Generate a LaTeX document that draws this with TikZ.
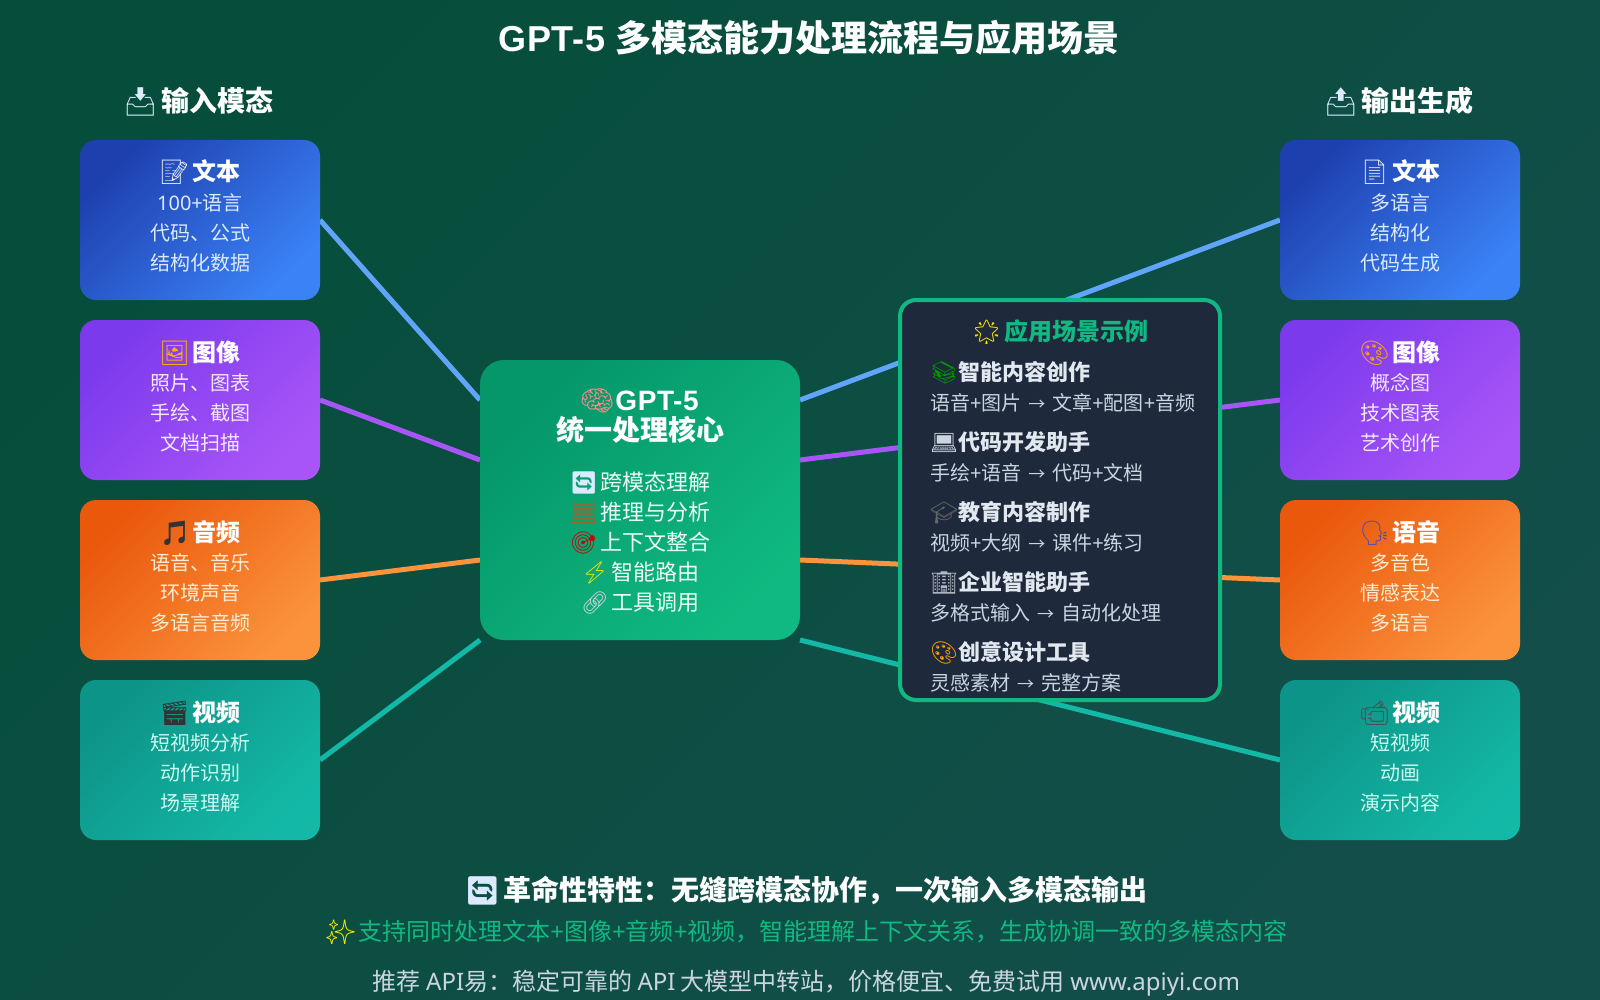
\documentclass[tikz,border=0pt]{standalone}
\usepackage{fontspec}
\setmainfont{Noto Sans CJK SC}
\newfontfamily\emj{Noto Emoji}
\newfontfamily\la{Noto Sans}
\newfontfamily\gpf[LetterSpace=2]{Liberation Sans}
\usetikzlibrary{backgrounds}
\newcommand{\ej}[2]{{\color{#1}\emj #2}\kern-.12em\relax}
\newcommand{\ek}[2]{{\color{#1}\emj #2}\kern-.21em\relax}
\newcommand{\pl}{{\la +}}
\newcommand{\arw}{\hspace{7pt}\scalebox{.85}{→}\hspace{7pt}}
\definecolor{bgA}{HTML}{064E3B}\definecolor{bgB}{HTML}{134E4A}
\definecolor{blA}{HTML}{1E40AF}\definecolor{blB}{HTML}{3B82F6}\definecolor{blL}{HTML}{60A5FA}\definecolor{blT}{HTML}{DBEAFE}
\definecolor{puA}{HTML}{7C3AED}\definecolor{puB}{HTML}{A855F7}\definecolor{puT}{HTML}{F3E8FF}
\definecolor{orA}{HTML}{EA580C}\definecolor{orB}{HTML}{FB923C}\definecolor{orT}{HTML}{FFEDD5}
\definecolor{teA}{HTML}{0D9488}\definecolor{teB}{HTML}{14B8A6}\definecolor{teT}{HTML}{CCFBF1}
\definecolor{grA}{HTML}{059669}\definecolor{grB}{HTML}{10B981}\definecolor{grT}{HTML}{ECFDF5}
\definecolor{slate}{HTML}{1E293B}\definecolor{slT}{HTML}{CBD5E1}\definecolor{slH}{HTML}{E2E8F0}
\pgfdeclarelayer{links}\pgfdeclarelayer{page}\pgfsetlayers{page,links,main}
\tikzset{
  base/.style={rounded corners=16pt,inner sep=0pt,outer sep=0pt,minimum width=240pt,minimum height=160pt},
  bluebox/.style={base,top color=blA,bottom color=blB,shading angle=45},
  purplebox/.style={base,top color=puA,bottom color=puB,shading angle=45},
  orangebox/.style={base,top color=orA,bottom color=orB,shading angle=45},
  tealbox/.style={base,top color=teA,bottom color=teB,shading angle=45},
  corebox/.style={rounded corners=24pt,inner sep=0pt,outer sep=0pt,minimum width=320pt,minimum height=280pt,top color=grA,bottom color=grB,shading angle=45},
  appbox/.style={rounded corners=16pt,inner sep=0pt,outer sep=0pt,minimum width=320pt,minimum height=400pt,fill=slate,draw=grB,line width=4pt},
  tx/.style={anchor=base,inner sep=0pt,outer sep=0pt,text=#1},
  txl/.style={anchor=base west,inner sep=0pt,outer sep=0pt,text=#1},
  fT/.style={font=\fontsize{36}{40}\selectfont\bfseries},
  fH/.style={font=\fontsize{28}{32}\selectfont\bfseries},
  fB/.style={font=\fontsize{24}{28}\selectfont\bfseries},
  fS/.style={font=\fontsize{20}{24}\selectfont},
  fI/.style={font=\fontsize{22}{26}\selectfont},
  fK/.style={font=\fontsize{22}{26}\selectfont\bfseries},
  fF/.style={font=\fontsize{24}{28}\selectfont},
  link/.style={line width=5pt,#1},
}
\begin{document}
\begin{tikzpicture}[x=1pt,y=-1pt]
\useasboundingbox (0,0) rectangle (1600,1000);
\begin{pgfonlayer}{page}
\fill[top color=bgA,bottom color=bgB,shading angle=45] (0,0) rectangle (1600,1000);
\end{pgfonlayer}

\node[tx=white,fT] (title) at (809,52) {{\gpf GPT-5}\hspace{2pt} 多模态能力处理流程与应用场景};
\node[tx=white,fH] (inhead) at (198,112) {\ej{blT}{📥} 输入模态};
\node[tx=white,fH] (outhead) at (1398.5,112) {\ej{blT}{📤} 输出生成};

% input boxes
\node[bluebox] (in1) at (200,220) {};
\node[tx=white,fB] (in1t) at (200,181) {\ej{slH}{📝} 文本};
\node[tx=blT,fS] (in1a) at (200,211) {{\la 100+}语言};
\node[tx=blT,fS] (in1b) at (200,241) {代码、公式};
\node[tx=blT,fS] (in1c) at (200,270.5) {结构化数据};

\node[purplebox] (in2) at (200,400) {};
\node[tx=white,fB] (in2t) at (200,361) {\ej{orange!60!yellow}{🖼} 图像};
\node[tx=puT,fS] (in2a) at (200,390.5) {照片、图表};
\node[tx=puT,fS] (in2b) at (200,420.5) {手绘、截图};
\node[tx=puT,fS] (in2c) at (200,450.5) {文档扫描};

\node[orangebox] (in3) at (200,580) {};
\node[tx=white,fB] (in3t) at (200,541) {\ej{black!80}{🎵} 音频};
\node[tx=orT,fS] (in3a) at (200,570.5) {语音、音乐};
\node[tx=orT,fS] (in3b) at (200,600.5) {环境声音};
\node[tx=orT,fS] (in3c) at (200,630.5) {多语言音频};

\node[tealbox] (in4) at (200,760) {};
\node[tx=white,fB] (in4t) at (200,721) {\ej{black!80}{🎬} 视频};
\node[tx=teT,fS] (in4a) at (200,750.5) {短视频分析};
\node[tx=teT,fS] (in4b) at (200,780.5) {动作识别};
\node[tx=teT,fS] (in4c) at (200,810.5) {场景理解};

% output boxes
\node[bluebox] (out1) at (1400,220) {};
\node[tx=white,fB] (out1t) at (1400,181) {\ej{slH}{📄} 文本};
\node[tx=blT,fS] (out1a) at (1400,211) {多语言};
\node[tx=blT,fS] (out1b) at (1400,241) {结构化};
\node[tx=blT,fS] (out1c) at (1400,270.5) {代码生成};

\node[purplebox] (out2) at (1400,400) {};
\node[tx=white,fB] (out2t) at (1400,361) {\ej{orange!70!yellow}{🎨} 图像};
\node[tx=puT,fS] (out2a) at (1400,390.5) {概念图};
\node[tx=puT,fS] (out2b) at (1400,420.5) {技术图表};
\node[tx=puT,fS] (out2c) at (1400,450.5) {艺术创作};

\node[orangebox] (out3) at (1400,580) {};
\node[tx=white,fB] (out3t) at (1400,541) {\ej{blue!40!gray}{🗣} 语音};
\node[tx=orT,fS] (out3a) at (1400,570.5) {多音色};
\node[tx=orT,fS] (out3b) at (1400,600.5) {情感表达};
\node[tx=orT,fS] (out3c) at (1400,630.5) {多语言};

\node[tealbox] (out4) at (1400,760) {};
\node[tx=white,fB] (out4t) at (1400,721) {\ej{black!70}{📹} 视频};
\node[tx=teT,fS] (out4a) at (1400,750.5) {短视频};
\node[tx=teT,fS] (out4b) at (1400,780.5) {动画};
\node[tx=teT,fS] (out4c) at (1400,810.5) {演示内容};

% core
\node[corebox] (core) at (640,500) {};
\node[tx=white,fH] (coret1) at (639,410.5) {\ek{pink!70!red}{🧠} {\gpf GPT-5}};
\node[tx=white,fH] (coret2) at (640,440) {统一处理核心};
\node[tx=grT,fI] (corea) at (640,490.5) {\ej{blT}{🔄} 跨模态理解};
\node[tx=grT,fI] (coreb) at (640,520.5) {\ej{brown!80!black}{🧮} 推理与分析};
\node[tx=grT,fI] (corec) at (640,550.5) {\ej{red!80!black}{🎯} 上下文整合};
\node[tx=grT,fI] (cored) at (640,580.5) {\ej{yellow!90!orange}{⚡} 智能路由};
\node[tx=grT,fI] (coree) at (640,610.5) {\ej{slT}{🔗} 工具调用};

% applications
\node[appbox] (app) at (1060,500) {};
\node[tx=grB,fB] (appt) at (1060,340) {\ej{yellow!90!orange}{🌟} 应用场景示例};
\node[txl=slH,fK] (app1h) at (930,380) {\ek{green!60!black}{📚} 智能内容创作};
\node[txl=slT,fS] (app1d) at (930,410) {语音\pl 图片\arw 文章\pl 配图\pl 音频};
\node[txl=slH,fK] (app2h) at (930,450) {\ek{slT}{💻} 代码开发助手};
\node[txl=slT,fS] (app2d) at (930,480) {手绘\pl 语音\arw 代码\pl 文档};
\node[txl=slH,fK] (app3h) at (930,520) {\ek{black!60}{🎓} 教育内容制作};
\node[txl=slT,fS] (app3d) at (930,550) {视频\pl 大纲\arw 课件\pl 练习};
\node[txl=slH,fK] (app4h) at (930,590) {\ek{slT!70!gray}{🏢} 企业智能助手};
\node[txl=slT,fS] (app4d) at (930,620) {多格式输入\arw 自动化处理};
\node[txl=slH,fK] (app5h) at (930,660) {\ek{orange!70!yellow}{🎨} 创意设计工具};
\node[txl=slT,fS] (app5d) at (930,690) {灵感素材\arw 完整方案};

% footer
\node[tx=white,fH] (foot1) at (806,900) {\ej{blT}{🔄} 革命性特性：无缝跨模态协作，一次输入多模态输出};
\node[tx=grB,fF] (foot2) at (806.5,940.5) {\ej{yellow!90!orange}{✨} 支持同时处理文本\pl 图像\pl 音频\pl 视频，智能理解上下文关系，生成协调一致的多模态内容};
\node[tx=slT,fF] (foot3) at (806.5,990.5) {推荐 {\la API}易：稳定可靠的 {\la API} 大模型中转站，价格便宜、免费试用 {\la www.apiyi.com}};

% connectors
\begin{pgfonlayer}{links}
\draw[link=blL] (in1.east) -- ([yshift=100pt]core.west);
\draw[link=puB] (in2.east) -- ([yshift=40pt]core.west);
\draw[link=orB] (in3.east) -- ([yshift=-60pt]core.west);
\draw[link=teB] (in4.east) -- (core.south west);
\draw[link=blL] ([yshift=100pt]core.east) -- (out1.west);
\draw[link=puB] ([yshift=40pt]core.east) -- (out2.west);
\draw[link=orB] ([yshift=-60pt]core.east) -- (out3.west);
\draw[link=teB] (core.south east) -- (out4.west);
\end{pgfonlayer}
\end{tikzpicture}
\end{document}
